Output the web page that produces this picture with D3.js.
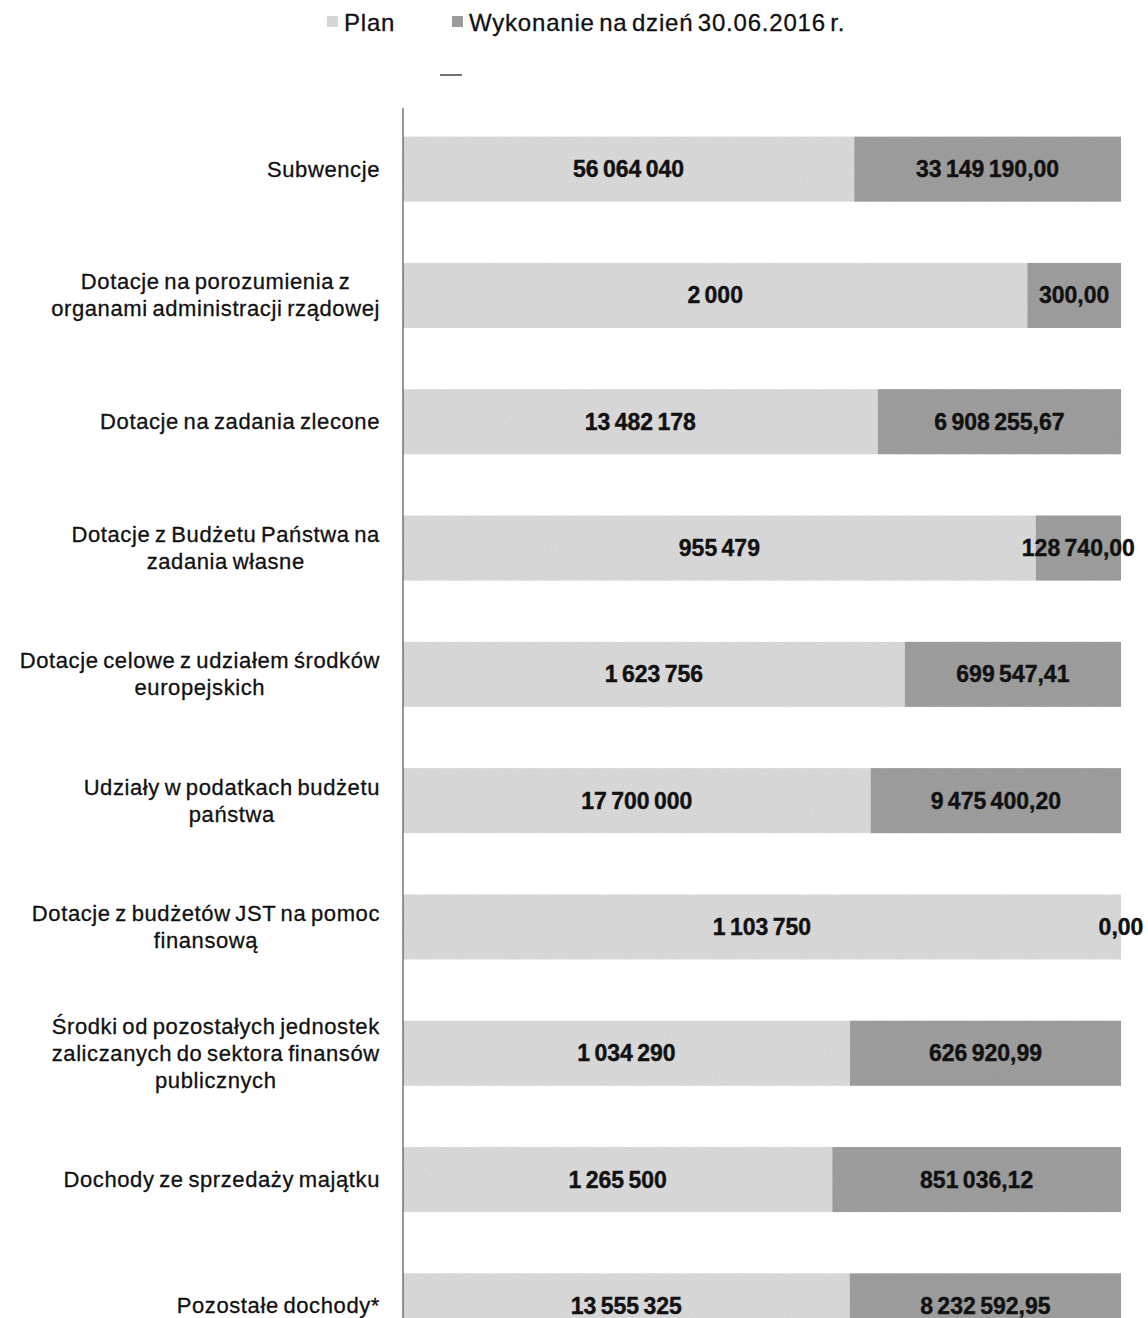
<!DOCTYPE html>
<html>
<head>
<meta charset="utf-8">
<script src="https://cdn.jsdelivr.net/npm/d3@7"></script>
<style>
  body { margin: 0; background: #fff; }
  svg { display: block; }
</style>
</head>
<body>
<svg id="chart" width="1148" height="1318"></svg>
<script>
const categories = [
  "Subwencje",
  "Dotacje na porozumienia z\norganami administracji rządowej",
  "Dotacje na zadania zlecone",
  "Dotacje z Budżetu Państwa na\nzadania własne",
  "Dotacje celowe z udziałem środków\neuropejskich",
  "Udziały w podatkach budżetu\npaństwa",
  "Dotacje z budżetów JST na pomoc\nfinansową",
  "Środki od pozostałych jednostek\nzaliczanych do sektora finansów\npublicznych",
  "Dochody ze sprzedaży majątku",
  "Pozostałe dochody*"
];
const planValues = [56064040, 2000, 13482178, 955479, 1623756, 17700000, 1103750, 1034290, 1265500, 13555325];
const wykValues = [33149190.00, 300.00, 6908255.67, 128740.00, 699547.41, 9475400.20, 0.00, 626920.99, 851036.12, 8232592.95];
const seriesNames = ["Plan", "Wykonanie na dzień 30.06.2016 r."];
const seriesColors = ["#dfdfdf", "#a2a2a2"];

const svg = d3.select("#chart");
const locale = d3.formatLocale({decimal: ",", thousands: "\u2009", grouping: [3], currency: ["", ""]});
const fmtPlan = v => locale.format(",.0f")(v).replace(/\u2009/g, " ");
const fmtWyk = v => locale.format(",.2f")(v).replace(/\u2009/g, " ");

const left = 403, right = 1121;
const x = d3.scaleLinear().domain([0, 1]).range([left, right]);
const y = d3.scaleBand().domain(categories).range([106, 1369]).paddingInner(0.485).paddingOuter(0.2425);

// noise filter for scanned look
const defs = svg.append("defs");
const f = defs.append("filter").attr("id", "grain").attr("x", 0).attr("y", 0).attr("width", 1).attr("height", 1);
f.append("feTurbulence").attr("type", "fractalNoise").attr("baseFrequency", 0.9).attr("numOctaves", 2).attr("seed", 3).attr("result", "n");
f.append("feColorMatrix").attr("in", "n").attr("type", "matrix")
  .attr("values", "0 0 0 0 0  0 0 0 0 0  0 0 0 0 0  0 0 0 0.16 0").attr("result", "na");
f.append("feComposite").attr("in", "na").attr("in2", "SourceGraphic").attr("operator", "in").attr("result", "nc");
f.append("feMerge").selectAll("feMergeNode").data(["SourceGraphic", "nc"]).join("feMergeNode").attr("in", d => d);

const rows = categories.map((c, i) => {
  const tot = planValues[i] + wykValues[i];
  return {cat: c, plan: planValues[i], wyk: wykValues[i], p: planValues[i] / tot};
});

// bars
const g = svg.append("g");
g.selectAll("rect.plan").data(rows).join("rect")
  .attr("class", "plan")
  .attr("x", x(0)).attr("y", d => y(d.cat))
  .attr("width", d => x(d.p) - x(0)).attr("height", y.bandwidth())
  .attr("fill", seriesColors[0]).attr("filter", "url(#grain)");
g.selectAll("rect.wyk").data(rows.filter(d => d.wyk > 0)).join("rect")
  .attr("class", "wyk")
  .attr("x", d => x(d.p)).attr("y", d => y(d.cat))
  .attr("width", d => x(1) - x(d.p)).attr("height", y.bandwidth())
  .attr("fill", seriesColors[1]).attr("filter", "url(#grain)");

// value labels
const valStyle = sel => sel.attr("font-family", "'Liberation Sans', Arial, sans-serif")
  .attr("font-weight", "bold").attr("font-size", 23).attr("fill", "#111")
  .attr("stroke", "#111").attr("stroke-width", 0.4)
  .attr("text-anchor", "middle").attr("dominant-baseline", "central").attr("word-spacing", -2);
g.selectAll("text.pl").data(rows).join("text").attr("class", "pl")
  .attr("x", d => (x(0) + x(d.p)) / 2).attr("y", d => y(d.cat) + y.bandwidth() / 2)
  .text(d => fmtPlan(d.plan)).call(valStyle);
g.selectAll("text.wl").data(rows).join("text").attr("class", "wl")
  .attr("x", d => (x(d.p) + x(1)) / 2).attr("y", d => y(d.cat) + y.bandwidth() / 2)
  .text(d => fmtWyk(d.wyk)).call(valStyle);

// axis line
svg.append("line").attr("x1", left).attr("x2", left).attr("y1", 108).attr("y2", 1318)
  .attr("stroke", "#555").attr("stroke-width", 1.2);

// category labels
const catG = svg.append("g")
  .attr("font-family", "'Liberation Sans', Arial, sans-serif").attr("font-size", 22)
  .attr("fill", "#111").attr("stroke", "#111").attr("stroke-width", 0.3)
  .attr("letter-spacing", 0.6).attr("word-spacing", -2);
rows.forEach(d => {
  const lines = d.cat.split("\n");
  const t = catG.append("text").attr("text-anchor", "middle");
  const cy = y(d.cat) + y.bandwidth() / 2;
  const lh = 27;
  lines.forEach((ln, k) => {
    t.append("tspan").attr("x", 0).attr("y", cy + (k - (lines.length - 1) / 2) * lh)
      .attr("dominant-baseline", "central").text(ln);
  });
  const w = t.node().getBBox().width;
  t.attr("transform", `translate(${380 - w / 2},0)`);
});

// legend
const leg = svg.append("g").attr("font-family", "'Liberation Sans', Arial, sans-serif")
  .attr("font-size", 24).attr("fill", "#111").attr("stroke", "#111").attr("stroke-width", 0.3)
  .attr("letter-spacing", 0.8).attr("word-spacing", -3);
const legX = [327, 452];
seriesNames.forEach((s, i) => {
  leg.append("rect").attr("x", legX[i]).attr("y", 16).attr("width", 11).attr("height", 11)
    .attr("fill", seriesColors[i]).attr("stroke", "none").attr("filter", "url(#grain)");
  leg.append("text").attr("x", legX[i] + 17).attr("y", 22).attr("dominant-baseline", "central").text(s);
});
// small dash artifact under legend
svg.append("line").attr("x1", 440).attr("x2", 462).attr("y1", 75).attr("y2", 75).attr("stroke", "#444").attr("stroke-width", 1.5);
</script>
</body>
</html>
